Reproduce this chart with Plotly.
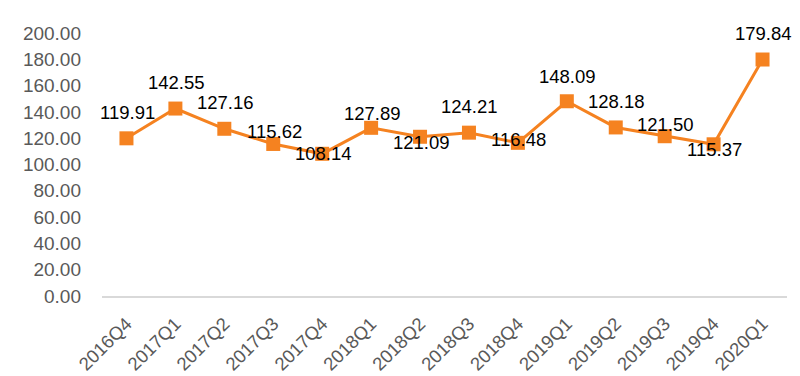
import plotly.graph_objects as go

quarters = ["2016Q4", "2017Q1", "2017Q2", "2017Q3", "2017Q4", "2018Q1", "2018Q2",
            "2018Q3", "2018Q4", "2019Q1", "2019Q2", "2019Q3", "2019Q4", "2020Q1"]
values = [119.91, 142.55, 127.16, 115.62, 108.14, 127.89, 121.09,
          124.21, 116.48, 148.09, 128.18, 121.50, 115.37, 179.84]
y_ticks = [0, 20, 40, 60, 80, 100, 120, 140, 160, 180, 200]

# vertical offsets (px) of each data label relative to its marker
label_shift = [26, 26, 26, 12, 0, 14, -6, 26, 3, 25, 26, 12, -5, 26]

ORANGE = "#F58220"
GRAY = "#595959"
FONT = "Liberation Sans, Arial, sans-serif"

fig = go.Figure()
fig.add_trace(go.Scatter(
    x=quarters, y=values, mode="lines+markers",
    line=dict(color=ORANGE, width=3),
    marker=dict(symbol="square", size=14, color=ORANGE),
    hoverinfo="x+y", showlegend=False,
))

for q, v, s in zip(quarters, values, label_shift):
    fig.add_annotation(
        x=q, y=v, text=f"{v:.2f}", showarrow=False,
        xanchor="center", yanchor="middle", yshift=s, xshift=1,
        font=dict(family=FONT, size=18.5, color="#000000"),
    )

fig.update_layout(
    width=792, height=368,
    margin=dict(l=94, r=13, t=25, b=80, autoexpand=False),
    paper_bgcolor="white", plot_bgcolor="white",
    font=dict(family=FONT),
)
fig.update_xaxes(
    type="category", range=[-0.5, len(quarters) - 0.5],
    tickangle=-45, tickfont=dict(family=FONT, size=18.5, color=GRAY),
    showline=True, linecolor="#D9D9D9", linewidth=1.5,
    showgrid=False, zeroline=False, ticks="",
    ticklabelstandoff=8,
)
fig.update_yaxes(
    range=[0, 200], tickvals=y_ticks, ticktext=[f"{t:.2f}" for t in y_ticks],
    tickfont=dict(family=FONT, size=19, color=GRAY),
    showgrid=False, zeroline=False, showline=False, ticks="",
    ticklabelstandoff=20,
)

fig.write_html("out.html")
